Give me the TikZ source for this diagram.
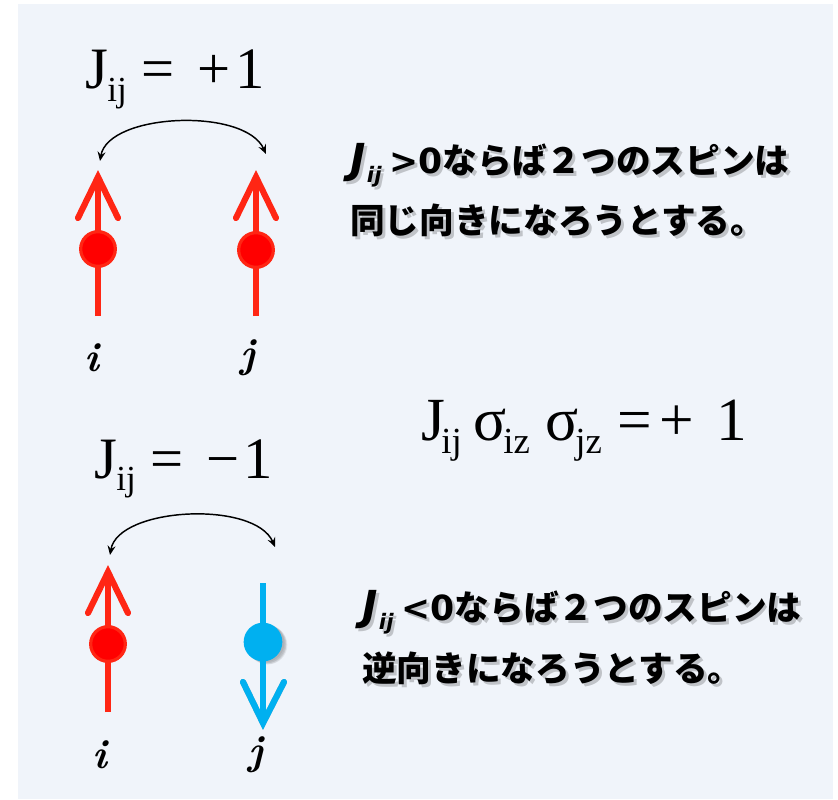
\documentclass[tikz,border=0pt]{standalone}
\usepackage{fontspec}
\newfontfamily\jp{Noto Sans CJK JP}
\newfontfamily\dvs{DejaVu Sans}
\newfontfamily\lser{Liberation Serif}
\usetikzlibrary{arrows.meta}
\definecolor{panel}{RGB}{240,244,250}
\definecolor{rline}{RGB}{255,38,20}
\definecolor{rball}{RGB}{255,0,0}
\definecolor{bline}{RGB}{0,176,240}
\tikzset{
  redline/.style={draw=rline, line width=4pt},
  redwing/.style={draw=rline, line width=4.6pt, line cap=round, line join=miter},
  blueline/.style={draw=bline, line width=4pt},
  bluewing/.style={draw=bline, line width=4.6pt, line cap=round, line join=miter},
  redball/.style={circle, fill=rball, draw=rline, line width=2.4pt, minimum size=26pt, inner sep=0pt},
  blueball/.style={circle, fill=bline, minimum size=29pt, inner sep=0pt},
  coupling/.style={draw=black, line width=1.1pt, {Stealth[length=7pt,width=6pt,inset=2.5pt]}-{Stealth[length=7pt,width=6pt,inset=2.5pt]}},
  mathlabel/.style={inner sep=0pt, anchor=base west, font=\fontsize{44}{48}\selectfont\lser},
  eqlabel/.style={inner sep=0pt, anchor=base west, font=\fontsize{46}{50}\selectfont\lser},
  sitelabel/.style={inner sep=0pt, font=\fontsize{31}{34}\selectfont\bfseries\itshape},
  jptext/.style={inner sep=0pt, anchor=west, font=\fontsize{26}{30}\selectfont\jp\bfseries},
  shadowcopy/.style={jptext, text=black, opacity=0.2},
}
% widths given in pixels (1px = 0.75pt)
\newcommand\bx[2]{\makebox[#1\dimexpr 0.75pt\relax][l]{#2}}
\newcommand\Jsub{{\dvs\bfseries\itshape {\fontsize{31}{31}\selectfont J}\kern1pt\raisebox{-7pt}{\fontsize{16}{16}\selectfont ij}}}
\newcommand\lsub[1]{\raisebox{-0.22em}{\fontsize{0.6em}{0.6em}\selectfont #1}}
\newcommand\shtext[3]{%
  \node[shadowcopy, xshift=2.2pt, yshift=-2.2pt] at (#1) {#3};
  \node[jptext] (#2) at (#1) {#3};}
\begin{document}
\begin{tikzpicture}[x=0.75pt,y=-0.75pt]
\useasboundingbox (0,0) rectangle (838,799);
\fill[panel] (18,4) rectangle (833,799);

% ---------- top: J = +1 ----------
\node[mathlabel] (jtop) at (85,89) {\bx{22}{J}\bx{34}{\lsub{ij}}\bx{56}{=}\bx{38}{+}1};

\coordinate (ti-base) at (98,316);
\coordinate (ti-tip) at (98,177);
\coordinate (ti-wl) at (78,218);
\coordinate (ti-wr) at (118,218);
\draw[redline] (ti-base) -- ([yshift=-3pt]ti-tip);
\draw[redwing] (ti-wl) -- (ti-tip) -- (ti-wr);
\node[redball] (ti) at (98,249) {};

\coordinate (tj-base) at (256,316);
\coordinate (tj-tip) at (256,177);
\coordinate (tj-wl) at (236,218);
\coordinate (tj-wr) at (276,218);
\draw[redline] (tj-base) -- ([yshift=-3pt]tj-tip);
\draw[redwing] (tj-wl) -- (tj-tip) -- (tj-wr);
\node[redball] (tj) at (256,250) {};

\coordinate (tc-l) at (100,161);
\coordinate (tc-r) at (266,154);
\draw[coupling] (tc-l) .. controls (108,113) and (245,107) .. (tc-r);

\node[sitelabel] (til) at (92,358) {i};
\node[sitelabel] (tjl) at (248,358) {j};

% ---------- right texts ----------
\shtext{350,165}{t1}{\Jsub\ \dvs\bfseries >0\jp ならば２つのスピンは}
\shtext{350,220}{t2}{同じ向きになろうとする。}

\node[eqlabel] (eq) at (421,440)
  {\bx{20}{J}\bx{32}{\lsub{ij}}\bx{30}{σ}\bx{42}{\lsub{iz}}\bx{30}{σ}\bx{42}{\lsub{jz}}\bx{42}{=}\bx{57}{+}1};

\shtext{362,612}{b1}{\Jsub\ \dvs\bfseries <0\jp ならば２つのスピンは}
\shtext{362,668}{b2}{逆向きになろうとする。}

% ---------- bottom: J = -1 ----------
\node[mathlabel] (jbot) at (94,478) {\bx{22}{J}\bx{34}{\lsub{ij}}\bx{56}{=}\bx{37}{−}1};

\coordinate (bi-base) at (108,712);
\coordinate (bi-tip) at (108,572);
\coordinate (bi-wl) at (88,613);
\coordinate (bi-wr) at (128,613);
\draw[redline] (bi-base) -- ([yshift=-3pt]bi-tip);
\draw[redwing] (bi-wl) -- (bi-tip) -- (bi-wr);
\node[redball] (bi) at (108,644) {};

\coordinate (bj-base) at (263,583);
\coordinate (bj-tip) at (263,723);
\coordinate (bj-wl) at (243,682);
\coordinate (bj-wr) at (284,682);
% shadow of the blue spin
\foreach \sx/\sy in {2/1,3/2,4/2,4/3,5/3}{
  \begin{scope}[xshift=\sx*0.75pt, yshift=-\sy*0.75pt, opacity=0.06]
    \draw[line width=4pt] (bj-base) -- ([yshift=3pt]bj-tip);
    \draw[line width=4.6pt, line cap=round] (bj-wl) -- (bj-tip) -- (bj-wr);
    \fill (263,642) circle (14.5pt);
  \end{scope}}
\draw[blueline] (bj-base) -- ([yshift=3pt]bj-tip);
\draw[bluewing] (bj-wl) -- (bj-tip) -- (bj-wr);
\node[blueball] (bj) at (263,642) {};

\coordinate (bc-l) at (110,555);
\coordinate (bc-r) at (275,547);
\draw[coupling] (bc-l) .. controls (118,507) and (255,500) .. (bc-r);

\node[sitelabel] (bil) at (100,755) {i};
\node[sitelabel] (bjl) at (256,755) {j};
\end{tikzpicture}
\end{document}
